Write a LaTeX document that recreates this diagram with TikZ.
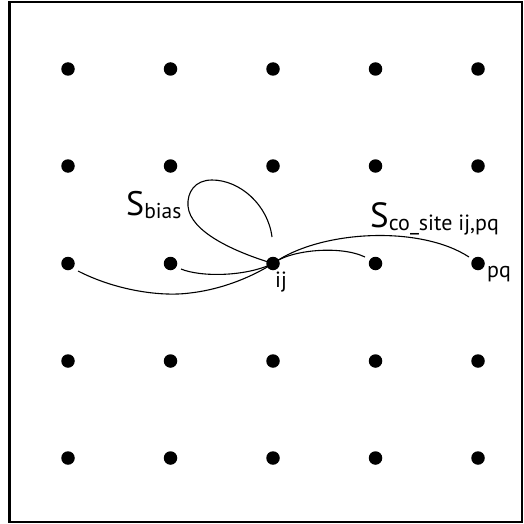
\documentclass[tikz,border=0pt]{standalone}
\usepackage{fontspec}
\setmainfont{PT Sans}
\begin{document}
\begin{tikzpicture}[x=1pt,y=-1pt,
  dot/.style={circle,fill=black,inner sep=0pt,minimum size=13.5pt},
  link/.style={line width=1.1pt},
  lbl/.style={anchor=base west,inner sep=0pt}]
\useasboundingbox (0,0) rectangle (523,524);
\draw[line width=2.2pt] (9.5,2) rectangle (522,522);
\foreach \c/\x in {1/68,2/170.5,3/273,4/375.5,5/478}
  \foreach \r/\y in {1/69,2/166,3/263.5,4/361,5/458}
    \node[dot] (d\c\r) at (\x,\y) {};
\coordinate (a) at (272,237);
\draw[link] (a) .. controls (268,205) and (240,180) .. (212,180)
  .. controls (195,180) and (187,192) .. (188,206)
  .. controls (190,232) and (235,252) .. (d33.center);
\coordinate (b) at (78,271);
\draw[link] (b) .. controls (115,290) and (160,297) .. (190,293)
  .. controls (225,289) and (255,275) .. (d33.center);
\coordinate (c) at (181,269);
\draw[link] (c) .. controls (200,277) and (245,277) .. (d33.center);
\coordinate (e) at (365,257);
\draw[link] (d33.center) .. controls (290,250) and (340,245) .. (e);
\coordinate (f) at (469,257);
\draw[link] (d33.center) .. controls (320,230) and (420,225) .. (f);
\node[lbl] (sbias) at (126,215) {\fontsize{34}{34}\selectfont S\raisebox{-3pt}{\fontsize{21.5}{21.5}\selectfont bias}};
\node[lbl] (sco) at (370,227) {\fontsize{35}{35}\selectfont S\raisebox{-3pt}{\fontsize{22}{22}\selectfont co\_site ij,pq}};
\node[lbl] (lij) at (275,287) {\fontsize{22}{22}\selectfont ij};
\node[lbl] (lpq) at (487,277) {\fontsize{22}{22}\selectfont pq};
\end{tikzpicture}
\end{document}
